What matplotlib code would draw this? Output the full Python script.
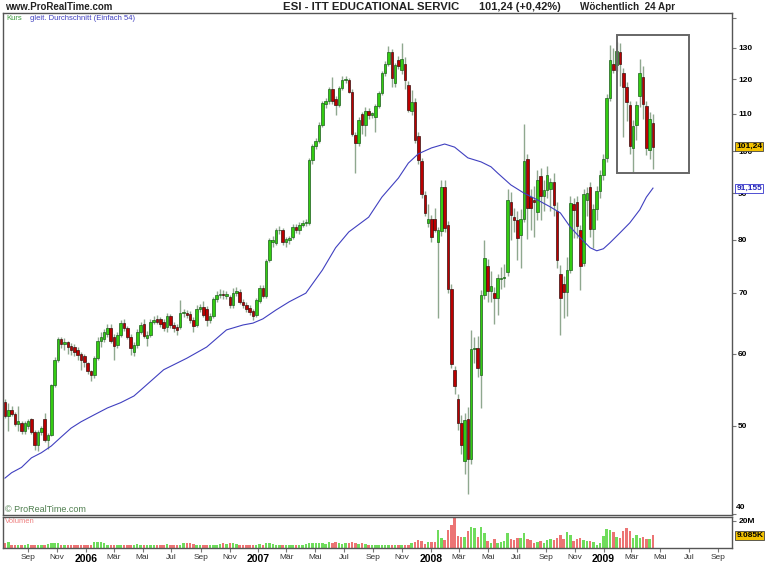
import numpy as np
import pandas as pd
import matplotlib
matplotlib.use('Agg')
import matplotlib.pyplot as plt
import matplotlib.transforms as mtrans
from matplotlib.patches import Rectangle
from matplotlib.ticker import NullLocator

plt.rcParams['font.family'] = ['Liberation Sans', 'DejaVu Sans']

# ESI weekly bars (last bar = 24 Apr 2009), prices in USD, volume in millions
last_date = '2009-04-24'
opens = [53.1, 51.3, 52.0, 51.5, 50.2, 50.4, 49.3, 50.0, 50.8, 49.2,
         47.6, 49.2, 50.9, 48.2, 48.9, 55.4, 59.1, 62.2, 61.4, 61.8,
         61.2, 61.0, 60.6, 59.9, 59.6, 58.6, 57.4, 56.8, 59.3, 61.9,
         62.3, 63.1, 64.0, 62.6, 61.3, 62.9, 64.8, 64.0, 62.6, 60.3,
         61.3, 63.4, 64.6, 62.4, 62.9, 65.0, 65.4, 65.4, 65.0, 64.2,
         65.9, 64.5, 64.2, 64.1, 66.4, 66.5, 66.3, 65.3, 64.5, 67.2,
         67.5, 67.2, 65.3, 65.9, 68.8, 69.6, 69.8, 69.4, 69.3, 67.8,
         69.9, 70.1, 68.4, 67.9, 67.4, 66.8, 66.1, 68.6, 70.9, 69.4,
         76.0, 79.5, 79.4, 82.0, 82.0, 79.5, 80.0, 80.5, 82.7, 81.9,
         83.1, 83.4, 83.4, 97.9, 101.3, 102.8, 107.0, 112.7, 113.5, 117.0,
         114.2, 112.6, 117.3, 119.8, 119.9, 116.3, 104.3, 102.1, 109.9, 106.9,
         110.9, 109.6, 109.1, 112.1, 115.9, 121.8, 124.8, 128.7, 118.8, 126.0,
         122.9, 124.8, 118.3, 110.9, 113.4, 104.0, 97.5, 89.6, 83.5, 84.3,
         84.3, 79.5, 81.7, 91.5, 83.1, 70.7, 57.6, 53.5, 50.3, 45.7,
         50.9, 46.0, 60.7, 60.9, 56.8, 69.6, 74.8, 70.3, 69.9, 69.1,
         72.4, 72.6, 73.7, 88.0, 84.8, 84.1, 81.0, 84.4, 98.1, 89.2,
         88.5, 85.9, 93.9, 89.3, 90.7, 91.0, 92.6, 86.0, 73.3, 71.6,
         70.1, 74.1, 87.6, 88.0, 82.0, 75.5, 88.5, 91.4, 82.2, 86.5,
         90.5, 94.2, 98.3, 114.4, 124.8, 124.3, 128.6, 121.8, 117.8, 112.5,
         101.0, 106.9, 115.1, 120.6, 112.2, 100.3, 107.5]
highs = [53.5, 53.0, 52.5, 51.7, 52.5, 50.6, 50.6, 50.9, 51.0, 49.5,
         49.4, 50.0, 51.6, 49.1, 55.6, 59.5, 62.6, 62.6, 62.4, 62.0,
         61.6, 61.4, 61.0, 60.2, 60.0, 58.8, 57.6, 59.6, 62.5, 63.4,
         63.8, 64.6, 64.6, 63.0, 63.3, 65.3, 65.4, 64.4, 63.0, 61.8,
         63.8, 65.0, 65.4, 63.6, 65.4, 66.0, 66.2, 65.8, 65.4, 66.4,
         66.3, 65.0, 64.6, 68.7, 67.2, 67.0, 66.8, 65.8, 67.8, 68.0,
         68.5, 67.6, 66.4, 69.2, 70.3, 70.6, 70.4, 70.3, 69.6, 70.8,
         71.0, 70.6, 68.9, 68.4, 67.8, 67.2, 69.0, 71.4, 71.3, 76.2,
         80.4, 80.8, 82.5, 82.8, 82.4, 80.6, 80.8, 83.2, 83.2, 83.6,
         84.2, 84.4, 98.4, 102.0, 103.4, 107.6, 113.6, 114.4, 117.8, 120.6,
         115.0, 118.0, 121.0, 121.0, 120.4, 117.0, 105.0, 109.0, 110.6, 111.8,
         111.5, 110.6, 112.8, 116.6, 122.5, 125.6, 130.5, 129.6, 125.0, 127.4,
         131.6, 127.0, 119.4, 116.8, 114.6, 105.0, 98.4, 90.4, 87.5, 85.2,
         86.6, 82.6, 93.1, 93.1, 83.8, 71.6, 58.2, 54.2, 51.4, 51.6,
         52.4, 63.7, 62.6, 62.8, 70.4, 80.0, 76.2, 74.0, 71.0, 73.4,
         74.6, 75.2, 91.0, 90.2, 86.6, 86.0, 86.4, 107.2, 99.4, 91.0,
         91.6, 95.5, 96.0, 93.0, 96.5, 93.5, 94.6, 88.0, 75.0, 73.0,
         76.6, 89.4, 89.0, 89.4, 83.0, 91.0, 91.4, 92.6, 87.6, 91.6,
         95.4, 99.4, 115.6, 131.0, 130.0, 132.0, 131.4, 123.6, 119.2, 113.6,
         108.4, 113.6, 126.3, 124.0, 113.6, 110.4, 109.8]
lows = [51.0, 49.3, 51.2, 50.0, 49.3, 49.0, 49.0, 49.6, 49.0, 47.0,
        46.9, 48.9, 48.0, 47.2, 48.7, 55.2, 58.8, 60.8, 60.5, 60.0,
        59.8, 59.6, 59.0, 57.6, 58.0, 57.0, 56.0, 56.4, 59.0, 61.0,
        61.8, 62.6, 61.6, 59.1, 60.9, 62.5, 63.6, 62.2, 59.8, 59.7,
        60.8, 63.0, 62.4, 61.2, 62.6, 64.6, 64.6, 64.2, 63.6, 63.4,
        64.0, 63.4, 62.9, 63.8, 65.8, 65.6, 64.9, 63.3, 64.2, 66.6,
        65.8, 64.3, 64.8, 65.6, 68.4, 69.0, 68.9, 68.8, 67.4, 67.4,
        69.4, 68.0, 67.4, 66.6, 66.2, 65.3, 65.8, 68.2, 69.0, 69.0,
        75.6, 78.6, 79.0, 81.2, 79.0, 78.6, 79.2, 80.2, 81.4, 81.2,
        82.6, 82.8, 83.0, 97.0, 100.6, 102.2, 106.4, 111.6, 112.8, 112.8,
        109.7, 112.0, 116.8, 118.8, 115.8, 104.0, 94.6, 101.4, 104.6, 104.0,
        108.6, 108.9, 105.0, 111.5, 115.3, 121.0, 124.0, 117.6, 117.8, 123.2,
        121.6, 117.0, 110.4, 109.6, 102.2, 97.0, 89.0, 85.0, 82.6, 79.6,
        81.6, 65.6, 80.8, 81.6, 70.0, 57.8, 54.2, 49.4, 46.6, 44.3,
        42.1, 45.4, 58.6, 56.5, 52.3, 68.8, 68.4, 68.4, 64.6, 66.2,
        70.6, 71.0, 73.0, 80.0, 81.6, 76.0, 74.4, 83.6, 80.2, 82.0,
        80.5, 84.0, 84.0, 86.0, 89.0, 86.0, 85.0, 74.4, 62.9, 65.6,
        66.0, 73.6, 80.4, 80.4, 70.5, 74.8, 85.0, 80.6, 78.4, 84.0,
        89.0, 93.0, 97.4, 113.6, 122.0, 122.6, 118.0, 103.6, 108.0, 99.3,
        94.9, 103.0, 112.0, 108.6, 99.1, 98.0, 95.6]
closes = [51.3, 52.0, 51.5, 50.2, 50.6, 49.3, 50.3, 50.6, 49.2, 47.6,
          49.2, 49.7, 48.2, 48.9, 55.4, 59.1, 62.2, 61.4, 61.8, 61.0,
          60.6, 60.3, 59.8, 59.0, 58.7, 57.4, 56.8, 59.3, 61.9, 62.6,
          63.3, 64.0, 62.0, 61.2, 62.9, 64.8, 64.0, 62.6, 60.8, 61.3,
          63.4, 64.5, 62.8, 62.9, 65.0, 65.3, 65.0, 64.7, 64.0, 65.9,
          64.5, 64.0, 63.7, 66.4, 66.6, 66.1, 65.3, 64.3, 67.2, 67.5,
          66.1, 65.3, 65.9, 68.8, 69.6, 69.8, 69.5, 69.7, 67.8, 69.9,
          70.3, 68.4, 67.8, 67.1, 66.6, 66.0, 68.7, 70.9, 69.4, 75.8,
          79.9, 80.0, 82.0, 82.1, 79.5, 80.1, 80.4, 82.7, 81.9, 83.0,
          83.5, 83.6, 97.9, 101.3, 102.8, 107.0, 112.9, 113.6, 117.0, 113.5,
          112.5, 117.3, 119.8, 120.1, 116.3, 104.6, 102.1, 108.3, 106.9, 110.9,
          109.6, 110.1, 112.1, 115.9, 121.8, 124.8, 128.7, 120.3, 124.4, 124.1,
          126.2, 119.8, 111.1, 113.4, 103.0, 97.9, 89.8, 85.6, 84.3, 80.6,
          82.0, 82.1, 91.5, 82.4, 70.7, 58.5, 55.3, 50.3, 47.6, 50.7,
          46.0, 60.7, 60.9, 57.8, 69.6, 76.4, 70.3, 71.2, 69.1, 72.6,
          72.6, 72.8, 88.5, 85.2, 84.1, 80.3, 84.3, 97.5, 86.7, 86.7,
          88.0, 93.1, 89.3, 90.7, 94.2, 92.6, 87.4, 76.1, 69.1, 70.1,
          74.1, 87.8, 86.3, 82.8, 74.8, 89.9, 90.0, 82.2, 86.4, 90.5,
          94.2, 98.1, 114.4, 126.0, 122.8, 128.9, 124.8, 117.8, 113.4, 101.4,
          106.6, 112.5, 121.8, 112.7, 100.8, 108.5, 101.24]
volume_m = [3.2, 4.0, 2.0, 1.7, 1.7, 1.5, 1.5, 2.5, 1.7, 2.2,
            2.0, 2.0, 2.0, 2.5, 3.5, 3.5, 3.0, 2.2, 2.0, 1.7,
            1.5, 1.5, 1.5, 1.7, 2.0, 2.2, 2.0, 4.0, 4.2, 4.0,
            3.2, 2.2, 2.2, 1.7, 1.7, 1.5, 1.7, 2.0, 1.7, 2.2,
            2.5, 2.2, 2.2, 2.0, 2.0, 1.7, 2.0, 2.2, 1.7, 2.5,
            2.0, 1.7, 1.7, 2.2, 3.0, 3.0, 3.0, 2.5, 2.0, 1.7,
            2.2, 2.0, 1.7, 2.0, 1.7, 2.5, 3.0, 2.5, 3.5, 3.0,
            2.5, 2.2, 2.2, 1.7, 2.0, 1.7, 2.0, 2.5, 2.0, 3.7,
            3.5, 2.5, 2.2, 2.0, 2.2, 1.7, 2.0, 2.0, 2.2, 1.7,
            2.0, 2.5, 3.7, 3.5, 3.0, 3.5, 3.0, 2.5, 4.0, 3.2,
            4.0, 3.7, 2.5, 3.0, 3.2, 4.4, 3.7, 2.5, 3.2, 2.5,
            2.0, 2.0, 2.2, 2.0, 2.0, 2.2, 2.0, 2.0, 2.2, 2.0,
            1.7, 1.5, 1.5, 3.7, 4.4, 5.7, 4.9, 2.5, 4.4, 4.4,
            4.4, 12.6, 6.9, 5.7, 12.6, 16.8, 21.7, 8.6, 8.1, 7.7,
            12.3, 15.1, 14.3, 7.7, 15.1, 10.6, 4.9, 3.7, 6.2, 3.2,
            4.2, 4.9, 10.6, 6.4, 5.7, 6.9, 6.9, 10.6, 6.2, 5.2,
            3.7, 4.2, 4.9, 3.7, 5.7, 6.4, 5.7, 7.4, 9.4, 6.2,
            11.6, 8.9, 4.9, 6.2, 6.7, 5.7, 4.9, 4.9, 4.4, 2.0,
            3.7, 8.6, 13.6, 12.6, 11.6, 8.1, 7.4, 11.9, 14.3, 11.9,
            6.9, 9.4, 6.9, 7.7, 6.4, 6.2, 9.085]

# 54-week simple moving average (bar number, value)
ma_week = [0, 2, 5, 8, 11, 14, 17, 20, 23, 27, 31, 35, 39, 42, 48, 55, 61, 67,
           72, 75, 78, 82, 86, 91, 96, 100, 104, 110, 114, 119, 122, 125, 129,
           133, 136, 140, 144, 147, 149, 153, 157, 161, 165, 168, 171, 174,
           177, 179, 181, 183, 186, 189, 192, 194, 196]
ma_value = [43.8, 44.4, 45.0, 46.1, 46.7, 47.5, 48.6, 49.7, 50.5, 51.4, 52.3,
            53.0, 53.9, 55.1, 57.6, 59.3, 61.0, 63.7, 64.5, 64.8, 65.5, 67.0,
            68.4, 69.9, 74.1, 78.4, 81.6, 84.7, 89.1, 93.5, 97.1, 99.4, 100.9,
            101.9, 101.1, 98.4, 97.4, 96.2, 94.7, 91.9, 90.0, 88.5, 86.9, 85.6,
            82.6, 80.4, 78.4, 77.8, 78.2, 79.4, 81.4, 83.5, 86.3, 89.1, 91.155]

price_ticks = [40, 50, 60, 70, 80, 90, 100, 110, 120, 130, 140]
month_de = {1: '', 3: 'Mär', 5: 'Mai', 7: 'Jul', 9: 'Sep', 11: 'Nov'}

W, H = 770, 578
fig = plt.figure(figsize=(W / 100, H / 100), dpi=100)
fig.patch.set_facecolor('white')


def px_rect(l, t, r, b):  # pixel box -> figure fraction rect
    return [l / W, 1 - b / H, (r - l) / W, (b - t) / H]


ax = fig.add_axes(px_rect(3, 13, 732, 515))
axv = fig.add_axes(px_rect(3, 517, 732, 547.5))

n = len(closes)
idx = np.arange(n)
o = np.array(opens)
c = np.array(closes)
up = c >= o

# candles
ax.vlines(idx, lows, highs, color='#8fa88f', lw=1.0, zorder=1)
ax.bar(idx, np.abs(c - o), bottom=np.minimum(o, c), width=0.78,
       color=np.where(up, '#33cc11', '#bb0000'),
       edgecolor=np.where(up, '#1f5f1f', '#3b1010'), linewidth=0.5, zorder=2)
ax.plot(ma_week, ma_value, color='#4040c0', lw=0.8, zorder=3)

# highlight box round the last weeks
ax.add_patch(Rectangle((185.0, 94.8), 22.0, 134.3 - 94.8, fill=False,
                       ec='#666666', lw=1.4, zorder=4))

ax.set_yscale('log')
ax.set_ylim(39.9, 141.9)
ax.set_xlim(-0.6, 219.9)
ax.yaxis.set_minor_locator(NullLocator())
ax.set_yticks(price_ticks)
ax.set_yticklabels(['' if p in (40, 140) else str(p) for p in price_ticks])
ax.yaxis.tick_right()
ax.tick_params(axis='y', direction='out', length=3, width=0.8, color='#777777',
               labelsize=6, pad=1.5)
for t in ax.get_yticklabels():
    t.set_fontweight('bold')
ax.set_xticks([])
for s in ax.spines.values():
    s.set_color('#555555')
    s.set_linewidth(1.0)

ytrans = mtrans.blended_transform_factory(ax.transAxes, ax.transData)
ax.text(1.006, 40.3, '40', transform=ytrans, fontsize=6, fontweight='bold',
        ha='left', va='bottom')
ax.text(1.006, closes[-1], f'{closes[-1]:.2f}'.replace('.', ','), transform=ytrans,
        fontsize=6, fontweight='bold', ha='left', va='center', zorder=10,
        bbox=dict(boxstyle='square,pad=0.12', fc='#f2c200', ec='#444444', lw=0.6))
ax.text(1.006, ma_value[-1], f'{ma_value[-1]:.3f}'.replace('.', ','), transform=ytrans,
        fontsize=6, fontweight='bold', color='#2222bb', ha='left', va='center', zorder=10,
        bbox=dict(boxstyle='square,pad=0.12', fc='white', ec='#3333cc', lw=0.6))

# volume pane
axv.bar(idx, volume_m, width=0.75, color=np.where(up, '#6fdc5c', '#ec7474'))
axv.set_xlim(-0.6, 219.9)
axv.set_ylim(0, 22.6)
axv.yaxis.tick_right()
axv.set_yticks([20])
axv.set_yticklabels(['20M'])
axv.tick_params(axis='y', direction='out', length=3, width=0.8, color='#777777',
                labelsize=6, pad=1.5)
for t in axv.get_yticklabels():
    t.set_fontweight('bold')
for s in axv.spines.values():
    s.set_color('#555555')
    s.set_linewidth(1.0)
vtrans = mtrans.blended_transform_factory(axv.transAxes, axv.transData)
axv.text(1.006, volume_m[-1], f'{volume_m[-1]:.3f}K', transform=vtrans,
         fontsize=6, fontweight='bold', ha='left', va='center',
         bbox=dict(boxstyle='square,pad=0.12', fc='#f2c200', ec='#444444', lw=0.6))

# month ticks (every 2nd month, years in bold)
bar0 = pd.Timestamp(last_date) - pd.Timedelta(weeks=n - 1)
tick_dates = pd.date_range('2005-09-01', '2009-09-01', freq='2MS')
tick_pos = [(d - bar0).days / 7 + 1.2 for d in tick_dates]
tick_lab = [str(d.year) if d.month == 1 else month_de[d.month] for d in tick_dates]
axv.set_xticks(tick_pos)
axv.set_xticklabels(tick_lab)
axv.tick_params(axis='x', direction='out', length=3, width=0.8, color='#777777',
                labelsize=6, pad=2)
for t, d in zip(axv.get_xticklabels(), tick_dates):
    if d.month == 1:
        t.set_fontweight('bold')
        t.set_fontsize(7.5)
    else:
        t.set_color('#333333')

# header and pane captions
head = dict(fontweight='bold', color='#222222', va='center', ha='left')
fig.text(5 / W, 1 - 6.5 / H, 'www.ProRealTime.com', fontsize=7.0, **head)
fig.text(283 / W, 1 - 6.5 / H, 'ESI - ITT EDUCATIONAL SERVIC', fontsize=8.2, **head)
fig.text(479 / W, 1 - 6.5 / H, '101,24 (+0,42%)', fontsize=7.9, **head)
fig.text(580 / W, 1 - 6.5 / H, 'Wöchentlich  24 Apr', fontsize=7.1, **head)
fig.text(6 / W, 1 - 19 / H, 'Kurs', fontsize=5.5, color='#3c9a3c', va='center')
fig.text(30 / W, 1 - 19 / H, 'gleit. Durchschnitt (Einfach 54)', fontsize=5.5,
         color='#4040c0', va='center')
fig.text(5 / W, 1 - 510 / H, '© ProRealTime.com', fontsize=6.5, color='#4f7f4f',
         va='center')
fig.text(5 / W, 1 - 521.5 / H, 'Volumen', fontsize=5.5, color='#ee8080', va='center')

fig.savefig('out.png', dpi=100, facecolor='white')
